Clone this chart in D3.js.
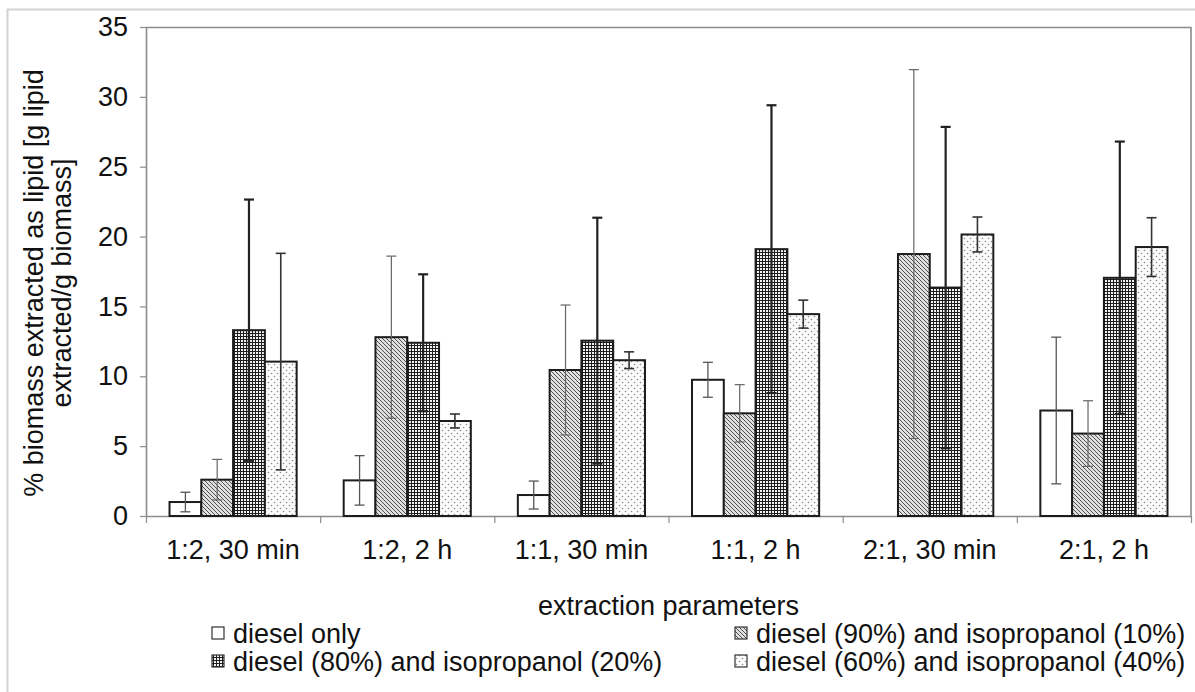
<!DOCTYPE html>
<html>
<head>
<meta charset="utf-8">
<script src="https://cdn.jsdelivr.net/npm/d3@7"></script>
<style>
  html, body { margin: 0; padding: 0; background: #fff; }
  svg text { font-family: "Liberation Sans", Arial, sans-serif; fill: #111; }
</style>
</head>
<body>
<svg id="chart" width="1195" height="692"></svg>
<script>
// Extraction conditions (solvent:biomass ratio, time)
const categories = ["1:2, 30 min", "1:2, 2 h", "1:1, 30 min", "1:1, 2 h", "2:1, 30 min", "2:1, 2 h"];
const seriesNames = [
  "diesel only",
  "diesel (90%) and isopropanol (10%)",
  "diesel (80%) and isopropanol (20%)",
  "diesel (60%) and isopropanol (40%)"
];
// Mean lipid yield (% of biomass) and its error for each solvent mix
const dieselOnly    = [1.0, 2.55, 1.5, 9.75, 0, 7.55];
const dieselOnlyErr = [0.7, 1.77, 1.0, 1.25, 0, 5.25];
const diesel90      = [2.6, 12.8, 10.45, 7.35, 18.75, 5.9];
const diesel90Err   = [1.45, 5.8, 4.65, 2.05, 13.2, 2.35];
const diesel80      = [13.3, 12.4, 12.55, 19.1, 16.35, 17.05];
const diesel80Err   = [9.35, 4.9, 8.8, 10.3, 11.5, 9.75];
const diesel60      = [11.05, 6.8, 11.15, 14.45, 20.15, 19.25];
const diesel60Err   = [7.75, 0.5, 0.6, 1.0, 1.25, 2.1];
const yTicks = [0, 5, 10, 15, 20, 25, 30, 35];

const seriesValues = [dieselOnly, diesel90, diesel80, diesel60];
const seriesErrors = [dieselOnlyErr, diesel90Err, diesel80Err, diesel60Err];

const svg = d3.select("#chart");
const W = 1195, H = 692;
const plot = { left: 146, right: 1191, top: 27, bottom: 516 };
const FONT = 27;

svg.append("rect").attr("width", W).attr("height", H).attr("fill", "#fff");
// chart area border
svg.append("rect").attr("x", 7.5).attr("y", 9.5).attr("width", 1220).attr("height", 720)
  .attr("fill", "none").attr("stroke", "#d2d2d2").attr("stroke-width", 2);

// fill patterns for the four solvent mixes
const defs = svg.append("defs");
const pHatch = defs.append("pattern").attr("id", "hatch").attr("patternUnits", "userSpaceOnUse")
  .attr("width", 4).attr("height", 4);
pHatch.append("rect").attr("width", 4).attr("height", 4).attr("fill", "#e0e0e0");
pHatch.append("path").attr("d", "M0,0 L4,4 M-1,3 L1,5 M3,-1 L5,1")
  .attr("stroke", "#505050").attr("stroke-width", 1);

const pGrid = defs.append("pattern").attr("id", "grid").attr("patternUnits", "userSpaceOnUse")
  .attr("width", 3).attr("height", 3);
pGrid.append("rect").attr("width", 3).attr("height", 3).attr("fill", "#f2f2f2");
pGrid.append("path").attr("d", "M0,0.5 H3 M0.5,0 V3").attr("stroke", "#1e1e1e").attr("stroke-width", 1);

const pDots = defs.append("pattern").attr("id", "dots").attr("patternUnits", "userSpaceOnUse")
  .attr("width", 6).attr("height", 6);
pDots.append("rect").attr("width", 6).attr("height", 6).attr("fill", "#fbfbfb");
pDots.append("circle").attr("cx", 1.5).attr("cy", 1.5).attr("r", 0.8).attr("fill", "#8a8a8a");
pDots.append("circle").attr("cx", 4.5).attr("cy", 4.5).attr("r", 0.8).attr("fill", "#8a8a8a");

const fills = ["#ffffff", "url(#hatch)", "url(#grid)", "url(#dots)"];
const errStyle = [
  { color: "#555", width: 1.3 },
  { color: "#666", width: 1.2 },
  { color: "#222", width: 2.2 },
  { color: "#333", width: 1.6 }
];

// scales
const x0 = d3.scaleBand().domain(categories).range([plot.left, plot.right])
  .paddingInner(0.27).paddingOuter(0.135);
const x1 = d3.scaleBand().domain(d3.range(seriesNames.length)).range([0, x0.bandwidth()]);
const xEdge = d3.scaleLinear().domain([0, categories.length]).range([plot.left, plot.right]);
const y = d3.scaleLinear().domain([0, 35]).range([plot.bottom, plot.top]);

// plot frame (top and right)
svg.append("path")
  .attr("d", `M${plot.left},${plot.top + 0.5} H${plot.right} V${plot.bottom}`)
  .attr("fill", "none").attr("stroke", "#8c8c8c").attr("stroke-width", 1.6);

// y axis
const yAxis = svg.append("g").attr("transform", `translate(${plot.left},0)`)
  .call(d3.axisLeft(y).tickValues(yTicks).tickSize(6).tickPadding(12).tickSizeOuter(0));
yAxis.select(".domain").attr("stroke", "#8c8c8c").attr("stroke-width", 1.6);
yAxis.selectAll(".tick line").attr("stroke", "#8c8c8c").attr("stroke-width", 1.2);
yAxis.selectAll(".tick text").attr("font-size", FONT).attr("fill", "#111")
  .style("font-family", "'Liberation Sans', Arial, sans-serif");

// x axis: tick marks at group boundaries
const xAxis = svg.append("g").attr("transform", `translate(0,${plot.bottom})`)
  .call(d3.axisBottom(xEdge).tickValues(d3.range(categories.length + 1)).tickSize(7)
    .tickFormat("").tickSizeOuter(0));
xAxis.select(".domain").attr("stroke", "#8c8c8c").attr("stroke-width", 1.6);
xAxis.selectAll(".tick line").attr("stroke", "#8c8c8c").attr("stroke-width", 1.2);

// category labels
const xLab = svg.append("g").attr("transform", `translate(0,${plot.bottom})`)
  .call(d3.axisBottom(x0).tickSize(0).tickPadding(24));
xLab.select(".domain").remove();
xLab.selectAll(".tick text").attr("font-size", FONT).attr("fill", "#111")
  .style("font-family", "'Liberation Sans', Arial, sans-serif");

// bars
const rows = [];
categories.forEach((c, i) => {
  seriesValues.forEach((vals, s) => {
    rows.push({ cat: c, s, v: vals[i], e: seriesErrors[s][i] });
  });
});

const bars = svg.append("g");
bars.selectAll("rect").data(rows.filter(d => d.v > 0)).join("rect")
  .attr("x", d => x0(d.cat) + x1(d.s))
  .attr("y", d => y(d.v))
  .attr("width", x1.bandwidth())
  .attr("height", d => y(0) - y(d.v))
  .attr("fill", d => fills[d.s])
  .attr("stroke", "#1c1c1c").attr("stroke-width", 2);

// error bars
const capW = 5;
const errG = svg.append("g");
rows.filter(d => d.e > 0).forEach(d => {
  const cx = x0(d.cat) + x1(d.s) + x1.bandwidth() / 2;
  const st = errStyle[d.s];
  const lo = y(Math.max(0, d.v - d.e)), hi = y(d.v + d.e);
  const g = errG.append("g").attr("stroke", st.color).attr("stroke-width", st.width).attr("fill", "none");
  g.append("line").attr("x1", cx).attr("x2", cx).attr("y1", lo).attr("y2", hi);
  g.append("line").attr("x1", cx - capW).attr("x2", cx + capW).attr("y1", lo).attr("y2", lo);
  g.append("line").attr("x1", cx - capW).attr("x2", cx + capW).attr("y1", hi).attr("y2", hi);
});

// axis titles
svg.append("text").attr("x", (plot.left + plot.right) / 2).attr("y", 615)
  .attr("text-anchor", "middle").attr("font-size", FONT).text("extraction parameters");

const yTitle = svg.append("text").attr("text-anchor", "middle").attr("font-size", FONT)
  .attr("transform", "translate(0,283) rotate(-90)");
yTitle.append("tspan").attr("x", 0).attr("y", 43).text("% biomass extracted as lipid [g lipid");
yTitle.append("tspan").attr("x", 0).attr("y", 71).text("extracted/g biomass]");

// legend
const legendPos = [
  { x: 212, y: 643 },
  { x: 735, y: 643 },
  { x: 212, y: 671 },
  { x: 735, y: 671 }
];
const leg = svg.append("g");
seriesNames.forEach((name, s) => {
  const p = legendPos[s];
  leg.append("rect").attr("x", p.x).attr("y", p.y - 16).attr("width", 12).attr("height", 12)
    .attr("fill", fills[s]).attr("stroke", "#333").attr("stroke-width", 1.2);
  leg.append("text").attr("x", p.x + 21).attr("y", p.y).attr("font-size", FONT).text(name);
});
</script>
</body>
</html>
